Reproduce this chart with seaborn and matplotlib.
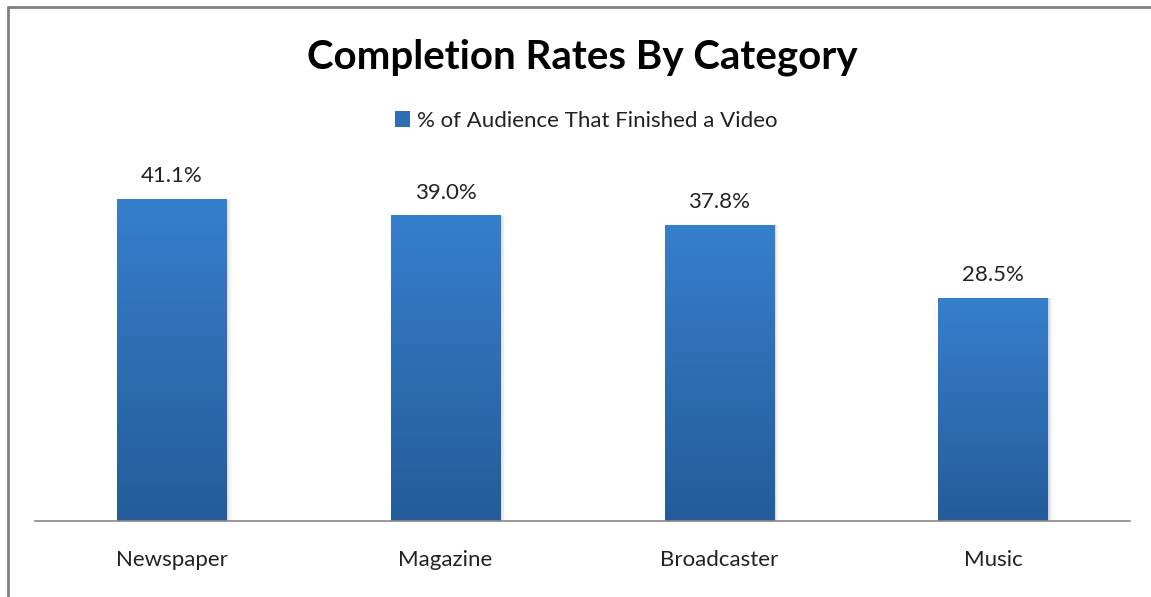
import numpy as np
import pandas as pd
import matplotlib
matplotlib.use("Agg")
import matplotlib.pyplot as plt
from matplotlib.lines import Line2D
from matplotlib.patches import Rectangle
import seaborn as sns

categories = ["Newspaper", "Magazine", "Broadcaster", "Music"]
completion = [41.1, 39.0, 37.8, 28.5]
value_labels = ["41.1%", "39.0%", "37.8%", "28.5%"]
series_name = "% of Audience That Finished a Video"
chart_title = "Completion Rates By Category"

df = pd.DataFrame({"category": categories, "rate": completion})

sns.set_theme(style="white")
plt.rcParams["font.family"] = ["Lato", "DejaVu Sans"]

fig = plt.figure(figsize=(11.51, 5.97), dpi=100)
ax = fig.add_axes([35 / 1151, 76 / 597, 1095 / 1151, 352 / 597])

sns.barplot(data=df, x="category", y="rate", color="#2f6db5", width=0.4,
            saturation=1, ax=ax, zorder=2)

top_c = np.array([0x36, 0x7f, 0xcc]) / 255
bot_c = np.array([0x24, 0x5c, 0x99]) / 255
grad = np.linspace(0, 1, 256)[:, None]
grad_img = (bot_c[None, None, :] * (1 - grad[..., None]) +
            top_c[None, None, :] * grad[..., None])

for bar, lab in zip(ax.patches, value_labels):
    x0, w, h = bar.get_x(), bar.get_width(), bar.get_height()
    # soft drop shadow on the right
    for i, a in enumerate([0.08, 0.05, 0.025]):
        ax.add_patch(Rectangle((x0 + w, 0), 0.006 * (i + 1), h, color="black",
                               alpha=a, lw=0, zorder=1))
    bar.set_facecolor("none")
    bar.set_edgecolor("none")
    ax.imshow(grad_img, extent=[x0, x0 + w, 0, h], origin="lower",
              aspect="auto", zorder=2, interpolation="bilinear")
    ax.text(x0 + w / 2, h + 1.7, lab, ha="center", va="bottom",
            fontsize=16, color="#222222")

ax.set_xlim(-0.5, len(categories) - 0.5)
ax.set_ylim(0, 45)
ax.set_xlabel("")
ax.set_ylabel("")
ax.set_yticks([])
ax.tick_params(axis="x", length=0, pad=21, labelsize=16, labelcolor="#222222")
for s in ["top", "right", "left"]:
    ax.spines[s].set_visible(False)
ax.spines["bottom"].set_color("#888888")
ax.spines["bottom"].set_linewidth(1.2)

fig.text(582 / 1151, 1 - 57 / 597, chart_title, ha="center", va="center",
         fontsize=29, fontweight="bold", color="black")

handle = Rectangle((0, 0), 1, 1, facecolor="#2f6db5", edgecolor="none")
leg = fig.legend([handle], [series_name], loc="center",
                 bbox_to_anchor=(586 / 1151, 1 - 121 / 597), frameon=False,
                 fontsize=16, handlelength=0.7, handleheight=0.7,
                 handletextpad=0.3)
for t in leg.get_texts():
    t.set_color("#222222")

# outer frame: top and left edges
fig.add_artist(Line2D([8 / 1151, 8 / 1151], [0, 1 - 7 / 597],
                      transform=fig.transFigure, color="#808080", lw=2))
fig.add_artist(Line2D([8 / 1151, 1], [1 - 7 / 597, 1 - 7 / 597],
                      transform=fig.transFigure, color="#808080", lw=2))

fig.savefig("out.png", dpi=100)
